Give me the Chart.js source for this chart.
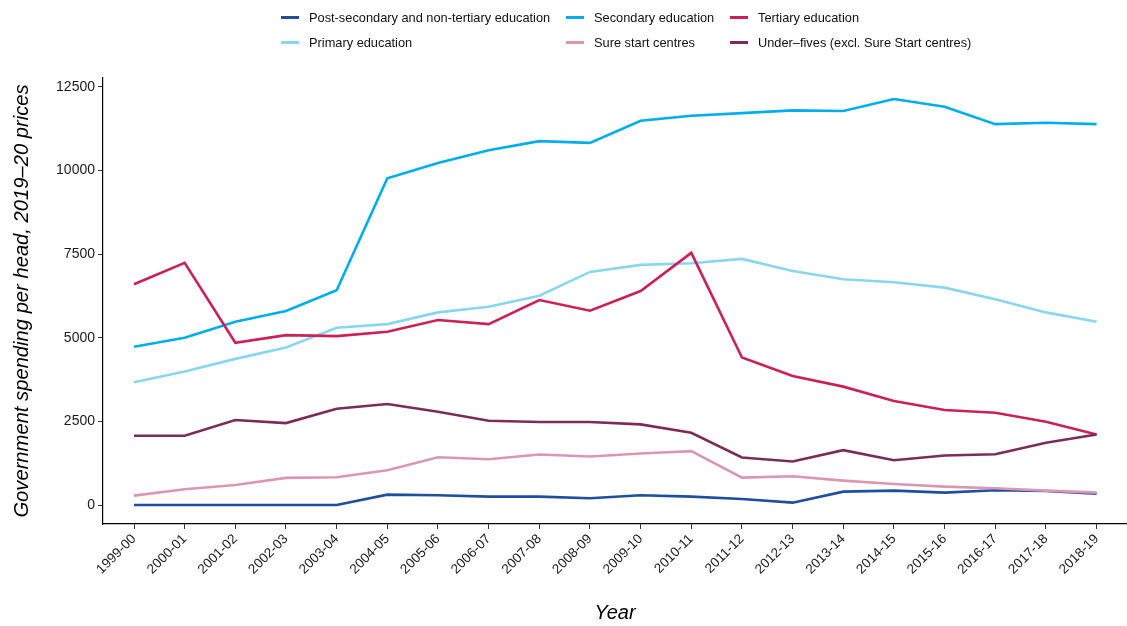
<!DOCTYPE html>
<html>
<head>
<meta charset="utf-8">
<title>Government spending per head by education stage</title>
<script src="https://cdn.jsdelivr.net/npm/chart.js@4.4.1/dist/chart.umd.min.js"></script>
<style>
  html, body { margin: 0; padding: 0; background: #fff; }
  #wrap { position: relative; width: 1127px; height: 626px; }
  #c { position: absolute; left: 0; top: 0; }
  #legend { position: absolute; left: 0; top: 0; width: 1127px; height: 60px;
            font-family: "Liberation Sans", Arial, sans-serif; font-size: 12.8px; color: #111; }
  .item { position: absolute; display: flex; align-items: center; white-space: nowrap; height: 16px; }
  .sw { width: 18px; height: 3px; margin-right: 10px; }
</style>
</head>
<body>
<div id="wrap">
  <canvas id="c" width="1127" height="626"></canvas>
  <div id="legend"></div>
</div>
<script>
// Financial years on the x axis
const years = ["1999-00","2000-01","2001-02","2002-03","2003-04","2004-05","2005-06","2006-07","2007-08","2008-09",
               "2009-10","2010-11","2011-12","2012-13","2013-14","2014-15","2015-16","2016-17","2017-18","2018-19"];

// y axis tick values (£ per head, 2019–20 prices)
const yTicks = [0, 2500, 5000, 7500, 10000, 12500];

// Spending per head by stage
const postSecondary = [0, 0, 0, 0, 0, 310, 290, 250, 250, 200, 290, 250, 180, 70, 400, 430, 370, 440, 420, 340];
const primary       = [3670, 3990, 4370, 4710, 5300, 5410, 5760, 5930, 6260, 6970, 7180, 7230, 7360, 7000, 6750, 6660, 6500, 6150, 5760, 5480];
const secondary     = [4730, 5000, 5480, 5800, 6420, 9770, 10230, 10610, 10880, 10830, 11490, 11640, 11720, 11800, 11780, 12140, 11910, 11390, 11430, 11390];
const sureStart     = [280, 470, 600, 810, 830, 1040, 1430, 1370, 1510, 1450, 1540, 1610, 820, 860, 730, 630, 550, 500, 430, 370];
const tertiary      = [6600, 7240, 4850, 5080, 5050, 5180, 5530, 5410, 6130, 5810, 6400, 7540, 4410, 3860, 3540, 3110, 2840, 2760, 2490, 2110];
const underFives    = [2070, 2070, 2540, 2450, 2880, 3020, 2790, 2520, 2480, 2480, 2410, 2160, 1420, 1300, 1640, 1340, 1480, 1520, 1860, 2110];

// Series labels, in legend order (filled column by column, two rows)
const seriesNames = ["Post-secondary and non-tertiary education", "Primary education", "Secondary education",
                     "Sure start centres", "Tertiary education", "Under\u2013fives (excl. Sure Start centres)"];
const seriesData = [postSecondary, primary, secondary, sureStart, tertiary, underFives];
const seriesColors = ["#1f4e9f", "#88d6ef", "#00aeef", "#db97b2", "#cb2157", "#7c2c58"];

const FONT = "'Liberation Sans', Arial, sans-serif";
Chart.defaults.font.family = FONT;

const datasets = seriesNames.map((name, k) => ({
  label: name,
  data: seriesData[k].map((v, i) => ({ x: i, y: v })),
  borderColor: seriesColors[k],
  backgroundColor: seriesColors[k],
  borderWidth: 2.6,
  pointRadius: 0,
  tension: 0,
  fill: false,
  order: seriesNames.length - 1 - k   // later series drawn on top
}));

new Chart(document.getElementById("c"), {
  type: "line",
  data: { datasets },
  options: {
    responsive: false,
    animation: false,
    devicePixelRatio: 1,
    layout: { padding: { top: 78, right: 0, left: 0, bottom: 0 } },
    plugins: { legend: { display: false }, tooltip: { enabled: false } },
    scales: {
      x: {
        type: "linear",
        min: -0.612,
        max: 19.6,
        afterBuildTicks: (s) => { s.ticks = years.map((_, i) => ({ value: i })); },
        afterFit: (s) => { s.height = 102; },
        ticks: {
          autoSkip: false,
          minRotation: 45,
          maxRotation: 45,
          padding: 2,
          color: "#1a1a1a",
          font: { size: 13.5 },
          callback: (v) => years[v]
        },
        grid: { display: true, drawOnChartArea: false, drawTicks: true, tickLength: 5, color: "#333", lineWidth: 1 },
        border: { display: true, color: "#000", width: 1.2 },
        title: { display: true, text: "Year", color: "#000",
                 font: { size: 20, style: "italic" }, padding: { top: 0, bottom: 1 } }
      },
      y: {
        type: "linear",
        min: -568,
        max: 12769,
        afterBuildTicks: (s) => { s.ticks = yTicks.map((v) => ({ value: v })); },
        afterFit: (s) => { s.width = 103; },
        ticks: {
          padding: 3,
          color: "#1a1a1a",
          font: { size: 14 },
          callback: (v) => String(v)
        },
        grid: { display: true, drawOnChartArea: false, drawTicks: true, tickLength: 5, color: "#333", lineWidth: 1 },
        border: { display: true, color: "#000", width: 1.2 },
        title: { display: true, text: "Government spending per head, 2019\u201320 prices", color: "#000",
                 font: { size: 20.2, style: "italic" }, padding: { top: 10, bottom: 0 } }
      }
    }
  }
});

// Legend: three columns, two rows, filled column-wise
const legend = document.getElementById("legend");
const colX = [281, 566, 730];
const rowY = [17, 42];
seriesNames.forEach((name, k) => {
  const item = document.createElement("div");
  item.className = "item";
  item.style.left = colX[Math.floor(k / 2)] + "px";
  item.style.top = (rowY[k % 2] - 8) + "px";
  const sw = document.createElement("span");
  sw.className = "sw";
  sw.style.background = seriesColors[k];
  const txt = document.createElement("span");
  txt.textContent = name;
  item.appendChild(sw);
  item.appendChild(txt);
  legend.appendChild(item);
});
</script>
</body>
</html>
